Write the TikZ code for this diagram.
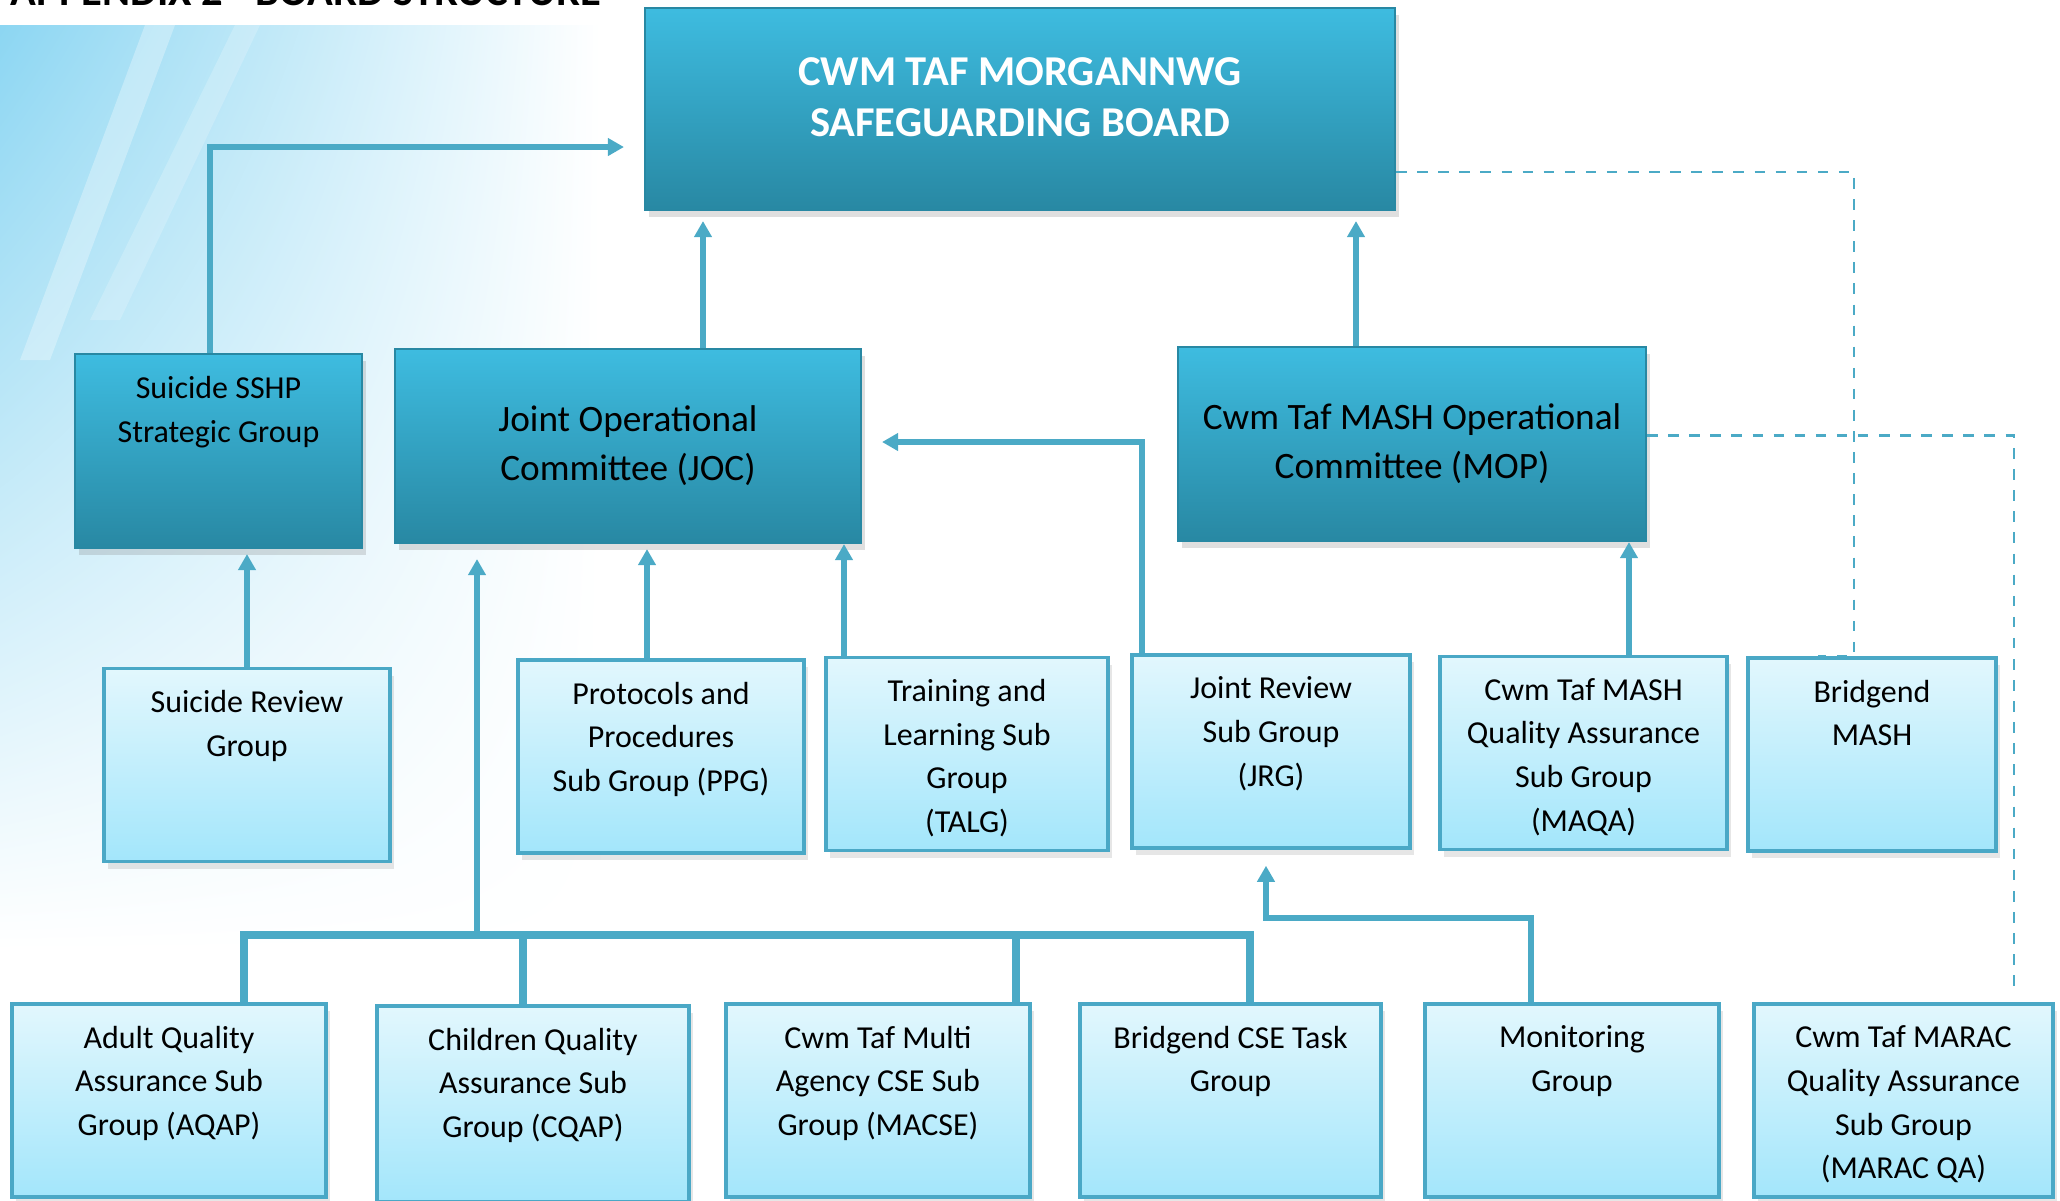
\documentclass[tikz,border=0pt]{standalone}
\usepackage{fontspec}
\setmainfont{Carlito}
\usetikzlibrary{arrows.meta,shadows,shadings}
\definecolor{line_blue}{RGB}{75,170,198}
\definecolor{dark_top}{RGB}{62,188,224}
\definecolor{dark_bottom}{RGB}{40,136,163}
\definecolor{light_top}{RGB}{226,247,253}
\definecolor{light_bottom}{RGB}{163,230,251}
\definecolor{box_edge}{RGB}{74,168,198}
\definecolor{bg_blue}{RGB}{140,214,242}

\begin{document}
\begin{tikzpicture}[->,>={Triangle[length=1.6mm,width=1.7mm]}]
    \tikzstyle{topbox}=[draw=dark_bottom, line width=0.6pt, top color=dark_top, bottom color=dark_bottom, inner sep=0pt, minimum height=1.94cm, drop shadow={shadow xshift=0.4mm, shadow yshift=-0.7mm, opacity=0.25}]
    \tikzstyle{subbox}=[draw=box_edge, line width=1pt, top color=light_top, bottom color=light_bottom, inner sep=0pt, minimum height=1.93cm, drop shadow={shadow xshift=0.4mm, shadow yshift=-0.7mm, opacity=0.2}]
    \tikzstyle{subtext}=[anchor=north, yshift=-2.3mm, inner sep=0pt, align=center, font=\fontsize{9.1}{12.4}\selectfont]
    \tikzstyle{midtext}=[align=center, font=\fontsize{10.6}{13.9}\selectfont]
    \tikzstyle{boardtext}=[anchor=north, yshift=-5mm, inner sep=0pt, align=center, text=white, font=\fontsize{12.1}{14.5}\selectfont\bfseries]
    \tikzstyle{conn}=[draw=line_blue, line width=1.55pt]
    \tikzstyle{busline}=[draw=line_blue, line width=2.1pt, -]
    \tikzstyle{dotconn}=[draw=line_blue, line width=0.7pt, dashed, -]

    \useasboundingbox (0,0) rectangle (20.6,-12);

    % background
    \shade[upper left=bg_blue, upper right=white, lower left=white, lower right=white] (0,-0.25) rectangle (6.0,-9.5);
    \fill[white, opacity=0.3] (0.2,-3.6) -- (1.45,-0.25) -- (1.75,-0.25) -- (0.5,-3.6) -- cycle;
    \fill[white, opacity=0.2] (0.9,-3.2) -- (2.35,-0.25) -- (2.6,-0.25) -- (1.2,-3.2) -- cycle;
    \node[anchor=base west, inner sep=0pt, font=\fontsize{12.1}{14.5}\selectfont\bfseries] (title) at (0.10,-0.05) {APPENDIX 2 - BOARD STRUCTURE};

    \node[topbox, minimum width=7.50cm, minimum height=2.02cm, label={[boardtext]north:CWM TAF MORGANNWG\\SAFEGUARDING BOARD}] (board) at (10.20,-1.09) {};

    \node[topbox, minimum width=2.87cm, label={[subtext]north:Suicide SSHP\\Strategic Group}] (sshp) at (2.185,-4.51) {};
    \node[topbox, minimum width=4.66cm, midtext] (joc) at (6.28,-4.46) {Joint Operational\\Committee (JOC)};
    \node[topbox, minimum width=4.68cm, midtext] (mop) at (14.12,-4.44) {Cwm Taf MASH Operational\\Committee (MOP)};

    \node[subbox, minimum width=2.86cm, label={[subtext]north:Suicide Review\\Group}] (sr) at (2.47,-7.65) {};
    \node[subbox, minimum width=2.86cm, label={[subtext]north:Protocols and\\Procedures\\Sub Group (PPG)}] (ppg) at (6.61,-7.565) {};
    \node[subbox, minimum width=2.82cm, label={[subtext]north:Training and\\Learning Sub\\Group\\(TALG)}] (talg) at (9.67,-7.54) {};
    \node[subbox, minimum width=2.78cm, label={[subtext]north:Joint Review\\Sub Group\\(JRG)}] (jrg) at (12.71,-7.515) {};
    \node[subbox, minimum width=2.87cm, label={[subtext]north:Cwm Taf MASH\\Quality Assurance\\Sub Group\\(MAQA)}] (maqa) at (15.835,-7.53) {};
    \node[subbox, minimum width=2.48cm, label={[subtext]north:Bridgend\\MASH}] (bmash) at (18.72,-7.545) {};

    \node[subbox, minimum width=3.14cm, label={[subtext]north:Adult Quality\\Assurance Sub\\Group (AQAP)}] (aqap) at (1.69,-11.005) {};
    \node[subbox, minimum width=3.12cm, minimum height=1.96cm, label={[subtext]north:Children Quality\\Assurance Sub\\Group (CQAP)}] (cqap) at (5.33,-11.04) {};
    \node[subbox, minimum width=3.04cm, label={[subtext]north:Cwm Taf Multi\\Agency CSE Sub\\Group (MACSE)}] (macse) at (8.78,-11.005) {};
    \node[subbox, minimum width=3.01cm, label={[subtext]north:Bridgend CSE Task\\Group}] (bcse) at (12.305,-11.005) {};
    \node[subbox, minimum width=2.94cm, label={[subtext]north:Monitoring\\Group}] (mon) at (15.72,-11.005) {};
    \node[subbox, minimum width=2.99cm, label={[subtext]north:Cwm Taf MARAC\\Quality Assurance\\Sub Group\\(MARAC QA)}] (marac) at (19.035,-11.005) {};

    % branch points
    \coordinate (a_sshp)  at (2.10,-1.47);
    \coordinate (a_joc)   at (7.03,0);
    \coordinate (a_mop)   at (13.56,0);
    \coordinate (a_ppg)   at (6.47,0);
    \coordinate (a_talg)  at (8.44,0);
    \coordinate (a_maqa)  at (16.29,0);
    \coordinate (a_jrg)   at (11.42,-4.42);
    \coordinate (b_aqap)  at (2.44,-9.35);
    \coordinate (b_cqap)  at (5.23,-9.35);
    \coordinate (b_up)    at (4.77,-9.35);
    \coordinate (b_macse) at (10.16,-9.35);
    \coordinate (b_bcse)  at (12.50,-9.35);
    \coordinate (m_mon)   at (15.31,-9.18);
    \coordinate (m_jrg)   at (12.66,-9.18);
    \coordinate (d_board) at (18.54,-1.72);
    \coordinate (d_mop)   at (20.14,-4.355);

    \draw[conn, shorten >=2mm] (a_sshp |- sshp.north) |- (board.west |- a_sshp);
    \draw[conn, shorten >=2mm] (a_jrg |- jrg.north) |- (joc.east |- a_jrg);
    \draw[conn, shorten >=1.6mm] (m_mon |- mon.north) |- (m_jrg) -- (m_jrg |- jrg.south);
    \draw[busline] (b_aqap |- aqap.north) -- (b_aqap) -- (b_bcse) -- (b_bcse |- bcse.north);
    \path
     (a_joc |- joc.north)  edge[conn, shorten >=1mm] (a_joc |- board.south)
     (a_mop |- mop.north)  edge[conn, shorten >=1mm] (a_mop |- board.south)
     (sr.north)            edge[conn, shorten >=0.5mm] (sr.north |- sshp.south)
     (a_ppg |- ppg.north)  edge[conn, shorten >=0.5mm] (a_ppg |- joc.south)
     (a_talg |- talg.north) edge[conn] (a_talg |- joc.south)
     (a_maqa |- maqa.north) edge[conn] (a_maqa |- mop.south)
     (b_up)                edge[conn, shorten >=1.5mm] (b_up |- joc.south)
     (b_cqap)              edge[busline] (b_cqap |- cqap.north)
     (b_macse)             edge[busline] (b_macse |- macse.north)
     ;
    \draw[dotconn] (board.east |- d_board) -| (d_board |- bmash.north) -- ++(-0.36,0);
    \draw[dotconn, shorten >=1.2mm] (mop.east |- d_mop) -| (d_mop |- marac.north);
\end{tikzpicture}
\end{document}
